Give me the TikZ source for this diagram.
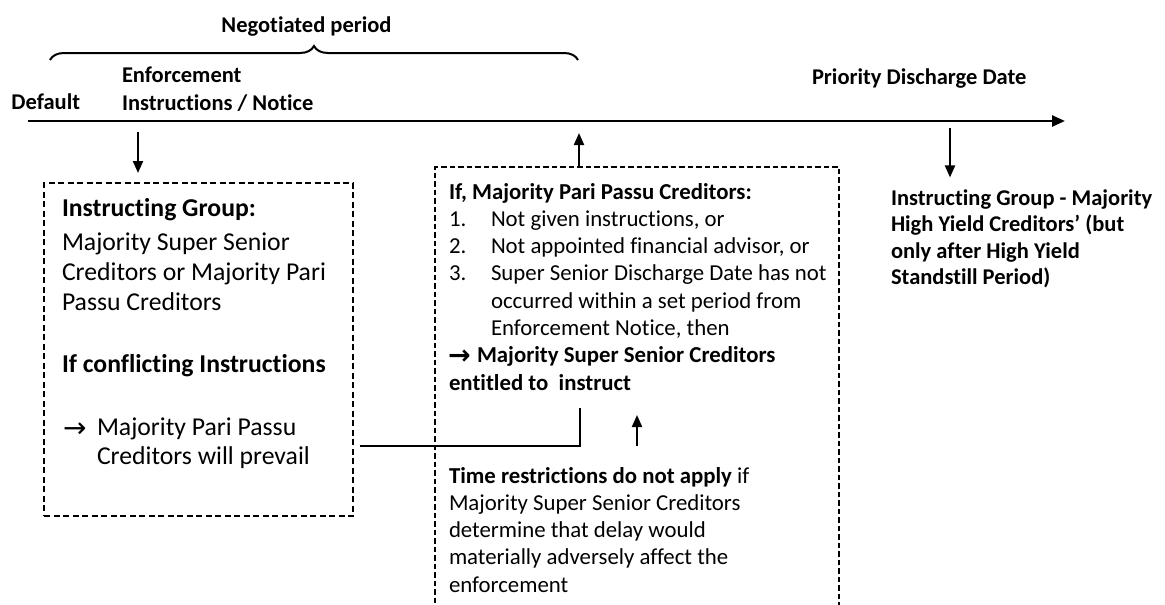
\documentclass[tikz,border=0pt]{standalone}
\usepackage{fontspec}
\setmainfont{Carlito}[Ligatures={NoCommon}]
\newfontfamily\symfont{DejaVu Sans}
\usetikzlibrary{arrows.meta,decorations.pathreplacing,calc}

\begin{document}
\begin{tikzpicture}[x=1pt,y=-1pt,
  every node/.style={inner sep=0pt, outer sep=0pt, align=left},
  toplbl/.style={font=\fontsize{22.5}{28}\selectfont\bfseries},
  leftfont/.style={font=\fontsize{25.7}{30}\selectfont},
  midfont/.style={font=\fontsize{22.8}{27.3}\selectfont},
  rightfont/.style={font=\fontsize{22.5}{26.5}\selectfont\bfseries},
  dbox/.style={draw, line width=1.5pt, dash pattern=on 6pt off 3.5pt},
  dboxthick/.style={draw, line width=1.8pt, dash pattern=on 5.5pt off 3pt},
  timeline/.style={line width=2.6pt, -{Triangle[length=13pt,width=11pt]}},
  varrow/.style={line width=2pt, -{Triangle[length=12pt,width=10pt]}},
  link/.style={line width=2pt},
  bracepath/.style={line width=2pt, decorate, decoration={brace, amplitude=14pt}}
]
\useasboundingbox (0,0) rectangle (1165,605);
\clip (0,0) rectangle (1165,605);
\fill[white] (0,0) rectangle (1165,605);

% time axis and the period brace
\coordinate (tlS) at (28,121);
\coordinate (tlE) at (1065,121);
\draw[timeline] (tlS) -- (tlE);

\coordinate (brL) at (50,60);
\coordinate (brR) at (578,60);
\draw[bracepath] (brL) -- (brR);

% labels above the axis
\node[toplbl, anchor=north] (negot) at (306.5,12.4) {\strut Negotiated period};
\node[toplbl, anchor=north west] (enf) at (122,62.4) {\strut Enforcement\\Instructions / Notice};
\node[toplbl, anchor=north west] (dflt) at (11.5,89.4) {\strut Default};
\node[toplbl, anchor=north west] (pdd) at (812,64.4) {\strut Priority Discharge Date};

% left dashed box
\node[dbox, anchor=north west, minimum width=309pt, minimum height=333pt] (lbox) at (44,183) {};
\node[leftfont, font=\fontsize{25.7}{30}\selectfont\bfseries, anchor=north west] (lgHead) at (62,195) {\strut Instructing Group:};
\node[leftfont, anchor=north west] (lgBody) at (62,229) {\strut Majority Super Senior\\Creditors or Majority Pari\\Passu Creditors};
\node[leftfont, font=\fontsize{25.7}{30}\selectfont\bfseries, anchor=north west] (lgIf) at (62,351) {\strut If conflicting Instructions};
\node[anchor=base west, font=\fontsize{28}{30}\selectfont\symfont] (lgArr) at (63,437) {→};
\node[leftfont, font=\fontsize{25.7}{29.5}\selectfont, anchor=north west] (lgRes) at (97,414.35) {\strut Majority Pari Passu\\Creditors will prevail};

% middle dashed box (open below)
\node[dboxthick, anchor=north west, minimum width=404pt, minimum height=470pt] (mbox) at (435,167) {};
\node[midfont, font=\fontsize{22.8}{27.3}\selectfont\bfseries, anchor=north west] (mHead) at (449,179.9) {\strut If, Majority Pari Passu Creditors:};
\node[midfont, anchor=north west] (mNum) at (449,207.2) {\strut 1.\\2.\\3.};
\node[midfont, anchor=north west] (mItems) at (491,207.2) {\strut Not given instructions, or\\Not appointed financial advisor, or\\Super Senior Discharge Date has not\\occurred within a set period from\\Enforcement Notice, then};
\node[anchor=base west, font=\fontsize{27}{27.3}\selectfont\symfont\bfseries] (mArr) at (448,364.5) {→};
\node[midfont, font=\fontsize{22.8}{27.3}\selectfont\bfseries, anchor=north west] (mThen) at (449,343.7) {\strut\hspace{28pt}Majority Super Senior Creditors\\entitled to \ instruct};
\node[midfont, anchor=north west] (mTime) at (449,463.9) {\strut\textbf{Time restrictions do not apply} if\\Majority Super Senior Creditors\\determine that delay would\\materially adversely affect the\\enforcement};

% right-hand note
\node[rightfont, anchor=north west] (rText) at (891,186.45) {\strut Instructing Group - Majority\\High Yield Creditors’ (but\\only after High Yield\\Standstill Period)};

% arrows between axis and boxes
\coordinate (tA) at (138,132);
\draw[varrow] (tA) -- ($(tA |- lbox.north)+(0,-10)$);

\coordinate (tB) at (579,133);
\draw[varrow] (mbox.north -| tB) -- (tB);

\coordinate (tC) at (950,128);
\draw[varrow] (tC) -- ($(tC |- rText.north)+(0,-9)$);

% link from the left box into the middle box
\coordinate (lkA) at (360,446);
\coordinate (lkB) at (580,408);
\draw[link] (lkA) -| (lkB);

\coordinate (tD) at (637,446);
\coordinate (tE) at (637,415);
\draw[varrow] (tD) -- (tE);
\end{tikzpicture}
\end{document}
